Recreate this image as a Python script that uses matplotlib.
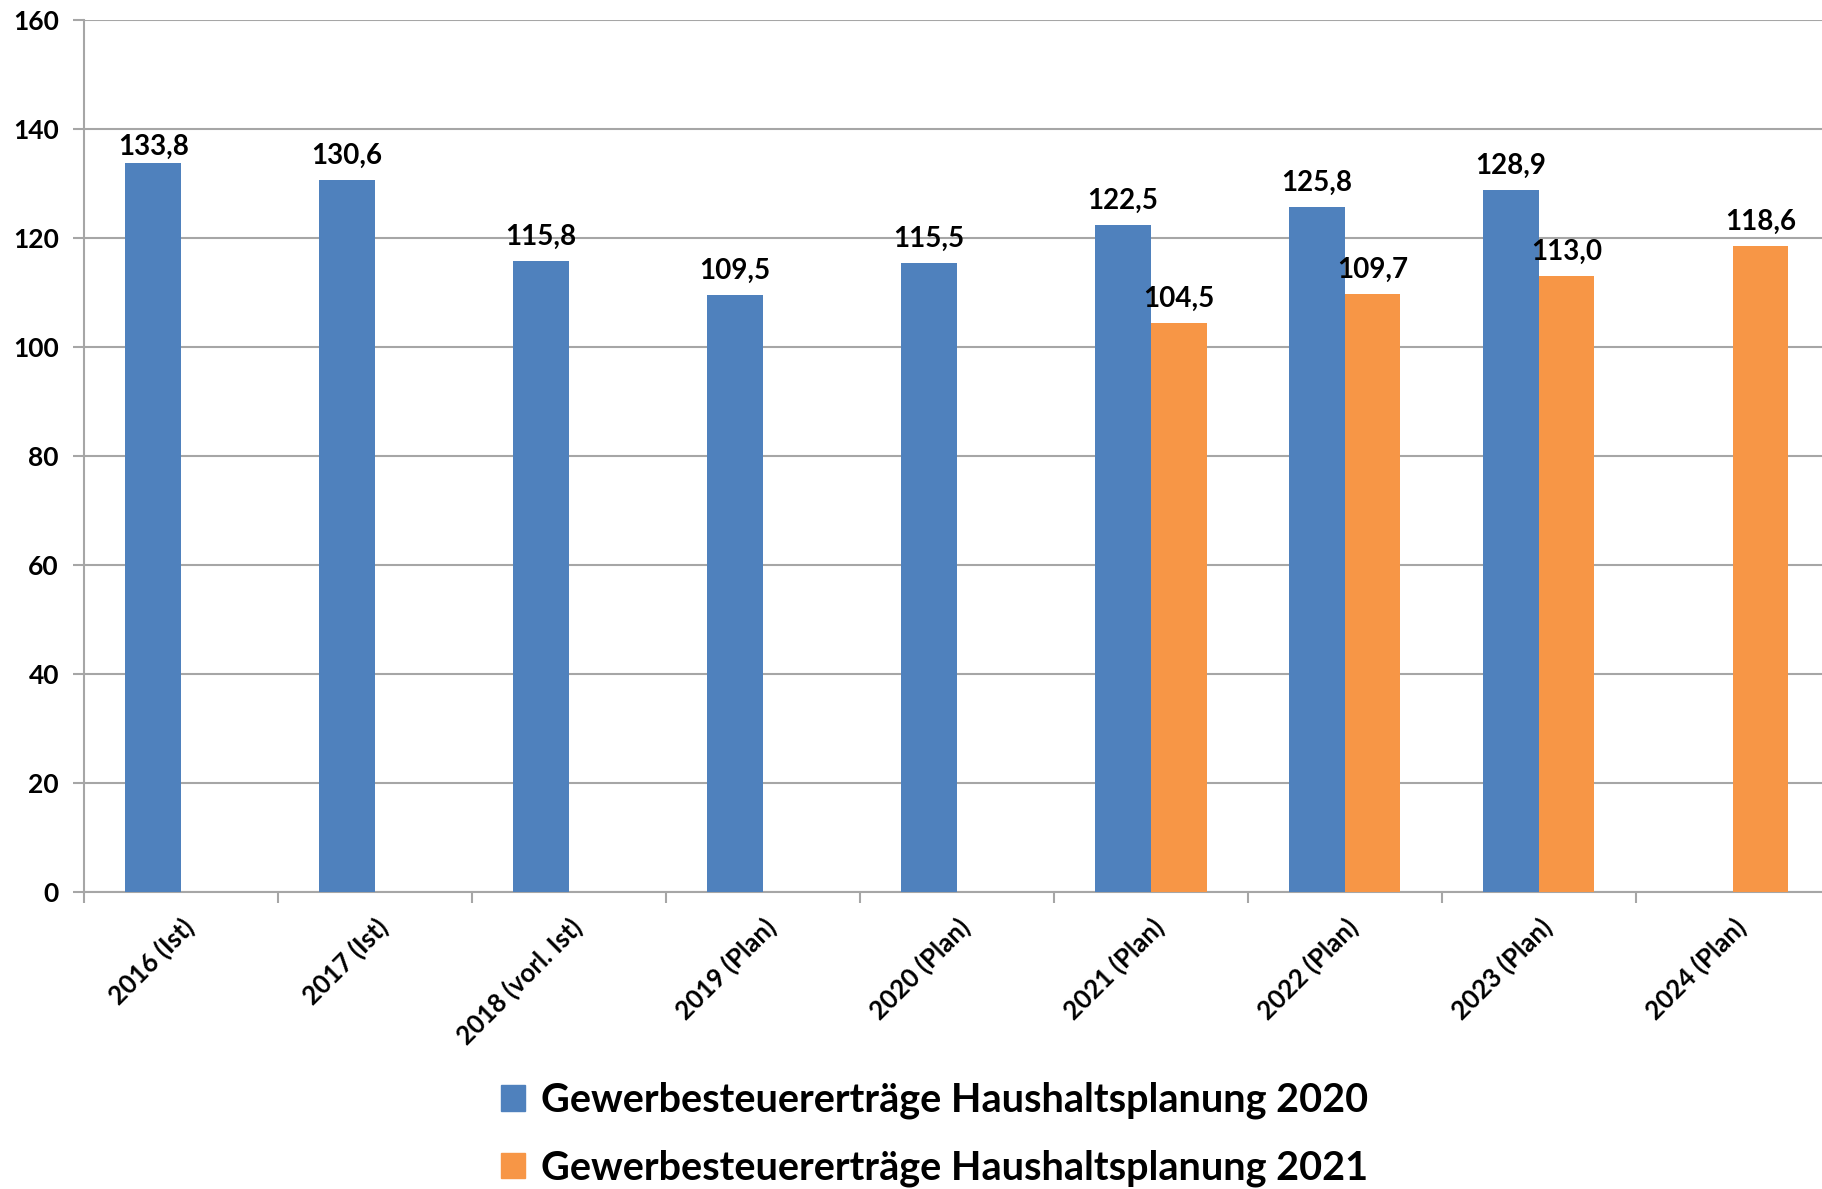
import matplotlib
matplotlib.use("Agg")
import matplotlib.pyplot as plt
import numpy as np
from matplotlib.patches import Patch

categories = ["2016 (Ist)", "2017 (Ist)", "2018 (vorl. Ist)", "2019 (Plan)", "2020 (Plan)",
              "2021 (Plan)", "2022 (Plan)", "2023 (Plan)", "2024 (Plan)"]
plan2020 = [133.8, 130.6, 115.8, 109.5, 115.5, 122.5, 125.8, 128.9, None]
plan2021 = [None, None, None, None, None, 104.5, 109.7, 113.0, 118.6]
series_names = ["Gewerbesteuererträge Haushaltsplanung 2020",
                "Gewerbesteuererträge Haushaltsplanung 2021"]
yticks = [0, 20, 40, 60, 80, 100, 120, 140, 160]

BLUE = "#4F81BD"
ORANGE = "#F79646"
FONT = "Lato"

fig = plt.figure(figsize=(18.22, 11.89), dpi=100)
ax = fig.add_axes([0.0461, 0.2498, 1 - 0.0461, 0.983 - 0.2498])

w = 0.287
x = np.arange(len(categories))

def fmt(v):
    return f"{v:.1f}".replace(".", ",")

for vals, off, col in [(plan2020, -w / 2, BLUE), (plan2021, w / 2, ORANGE)]:
    for i, v in enumerate(vals):
        if v is None:
            continue
        ax.bar(x[i] + off, v, width=w, color=col, zorder=3)
        dy = 2 if (col == BLUE and i == 0) else 8
        ax.annotate(fmt(v), (x[i] + off, v), xytext=(0, dy), textcoords="offset points",
                    ha="center", va="bottom", fontsize=20, fontweight="bold",
                    family=FONT, color="black", zorder=4)

ax.set_xlim(-0.5, 8.46)
ax.set_ylim(0, 160)
ax.set_yticks(yticks)
ax.set_yticklabels([str(t) for t in yticks], fontsize=19, fontweight="bold", family=FONT)
ax.yaxis.grid(True, color="#a6a6a6", linewidth=1.5, zorder=0)
ax.set_axisbelow(True)

ax.set_xticks(x)
ax.set_xticklabels(categories, rotation=45, ha="right", va="top", rotation_mode="anchor",
                   fontsize=18.5, fontweight="bold", family=FONT)
ax.tick_params(axis="x", which="major", length=0, pad=16)
ax.set_xticks(np.arange(-0.5, 8.5, 1.0), minor=True)
ax.tick_params(axis="x", which="minor", length=8, width=1.5, color="#a6a6a6", direction="out")
ax.tick_params(axis="y", which="major", length=8, width=1.5, color="#a6a6a6", pad=10)

for s in ["top", "right"]:
    ax.spines[s].set_visible(False)
for s in ["left", "bottom"]:
    ax.spines[s].set_color("#a6a6a6")
    ax.spines[s].set_linewidth(1.5)

handles = [Patch(color=BLUE, label=series_names[0]), Patch(color=ORANGE, label=series_names[1])]
fig.legend(handles=handles, loc="center", bbox_to_anchor=(0.513, 0.046), frameon=False,
           prop={"family": FONT, "weight": "bold", "size": 28.5},
           handlelength=0.6, handleheight=0.6, handletextpad=0.4, labelspacing=0.75,
           borderpad=0)

fig.savefig("out.png", dpi=100)
